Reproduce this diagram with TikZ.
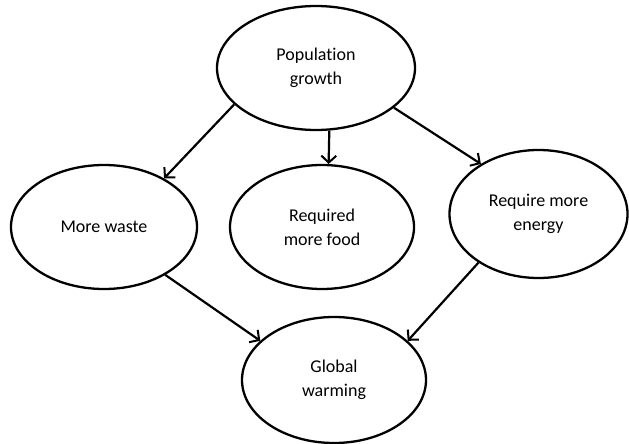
\documentclass[tikz,border=0pt]{standalone}
\usepackage{fontspec}
\setmainfont{Carlito}[Ligatures=NoCommon]
\usetikzlibrary{shapes.geometric,arrows.meta}
\begin{document}
\begin{tikzpicture}[x=1pt,y=-1pt,
  bubble/.style={draw=black,ellipse,line width=2.3pt,inner sep=0pt,align=center,
    font=\fontsize{18}{24}\selectfont,text=black},
  arr/.style={line width=2.2pt,-{Straight Barb[length=7pt,width=15pt,line width=2pt]}}]
\useasboundingbox (0,0) rectangle (629,444);
\node[bubble,minimum width=198pt,minimum height=124pt] (pop) at (316,68) {Population\\growth};
\node[bubble,minimum width=186pt,minimum height=124pt] (waste) at (104,227) {More waste};
\node[bubble,minimum width=184pt,minimum height=124pt] (food) at (322,227) {Required\\more food};
\node[bubble,minimum width=178pt,minimum height=128pt] (energy) at (538.5,214) {Require more\\energy};
\node[bubble,minimum width=184pt,minimum height=126pt] (gw) at (334,380) {Global\\warming};
\draw[arr] (pop.204) -- (waste.39);
\draw[arr] (pop.282) -- (food.84);
\draw[arr] (pop.333) -- (energy.139);
\draw[arr] (waste.322) -- (gw.152);
\draw[arr] (energy.219) -- (gw.28);
\end{tikzpicture}
\end{document}
